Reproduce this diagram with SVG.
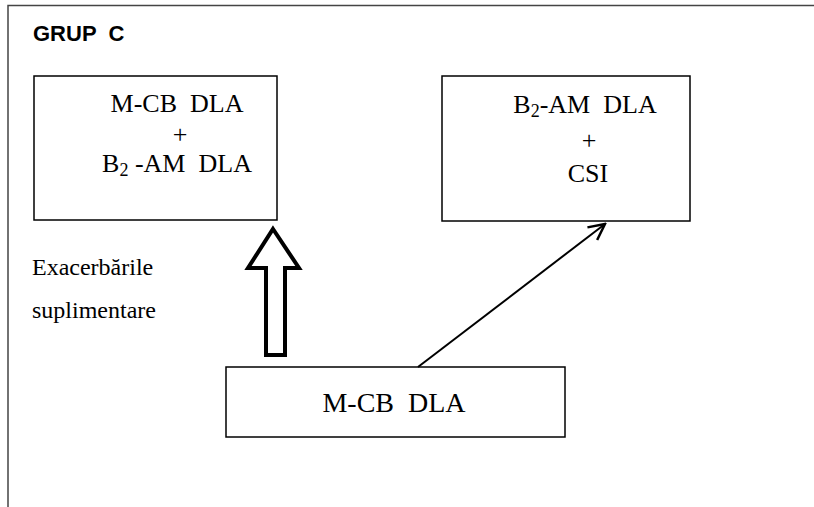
<svg xmlns="http://www.w3.org/2000/svg" width="814" height="507" viewBox="0 0 814 507">
<style>
text{white-space:pre}
.box{fill:#fff;stroke:#000;stroke-width:1.5}
.t{font-family:"Liberation Serif",serif;font-size:26px;fill:#000;text-anchor:middle}
.b{font-family:"Liberation Serif",serif;font-size:28px;fill:#000;text-anchor:middle}
.l{font-family:"Liberation Serif",serif;font-size:24px;fill:#000}
.h{font-family:"Liberation Sans",Arial,sans-serif;font-size:22px;font-weight:bold;fill:#000}
</style>
<defs>
<marker id="open" viewBox="0 0 20 20" refX="18" refY="10" markerWidth="20" markerHeight="20" markerUnits="userSpaceOnUse" orient="auto">
<path d="M2,2 L18,10 L2,18" fill="none" stroke="#000" stroke-width="2.5"/>
</marker>
</defs>
<rect width="814" height="507" fill="#fff"/>
<g id="frame">
<path d="M8,507 L8,5.5 L814,5.5" fill="none" stroke="#444" stroke-width="1.5"/>
<text class="h" x="33" y="41" xml:space="preserve">GRUP  C</text>
</g>
<g id="node-left">
<rect class="box" x="34" y="76" width="243" height="144"/>
<text class="t" x="177" y="112" xml:space="preserve">M-CB  DLA</text>
<text class="t" x="180" y="143">+</text>
<text class="t" x="177" y="172" xml:space="preserve">B<tspan font-size="18" dy="4">2</tspan><tspan dy="-4"> -AM  DLA</tspan></text>
</g>
<g id="node-right">
<rect class="box" x="442" y="76" width="248" height="145"/>
<text class="t" x="585" y="113" xml:space="preserve" font-size="27">B<tspan font-size="18" dy="4">2</tspan><tspan dy="-4">-AM  DLA</tspan></text>
<text class="t" x="589" y="149">+</text>
<text class="t" x="588" y="182">CSI</text>
</g>
<g id="node-bottom">
<rect class="box" x="226" y="367" width="339" height="70"/>
<text class="b" x="394" y="412" xml:space="preserve">M-CB  DLA</text>
</g>
<g id="label">
<text class="l" x="32" y="275">Exacerbările</text>
<text class="l" x="32" y="318">suplimentare</text>
</g>
<g id="connectors">
<path d="M273,229 L299,268 L285,268 L285,355 L266,355 L266,268 L248,268 Z" fill="#fff" stroke="#000" stroke-width="4" stroke-linejoin="miter"/>
<line x1="418" y1="367" x2="605" y2="224" stroke="#000" stroke-width="2" marker-end="url(#open)"/>
</g>
</svg>
